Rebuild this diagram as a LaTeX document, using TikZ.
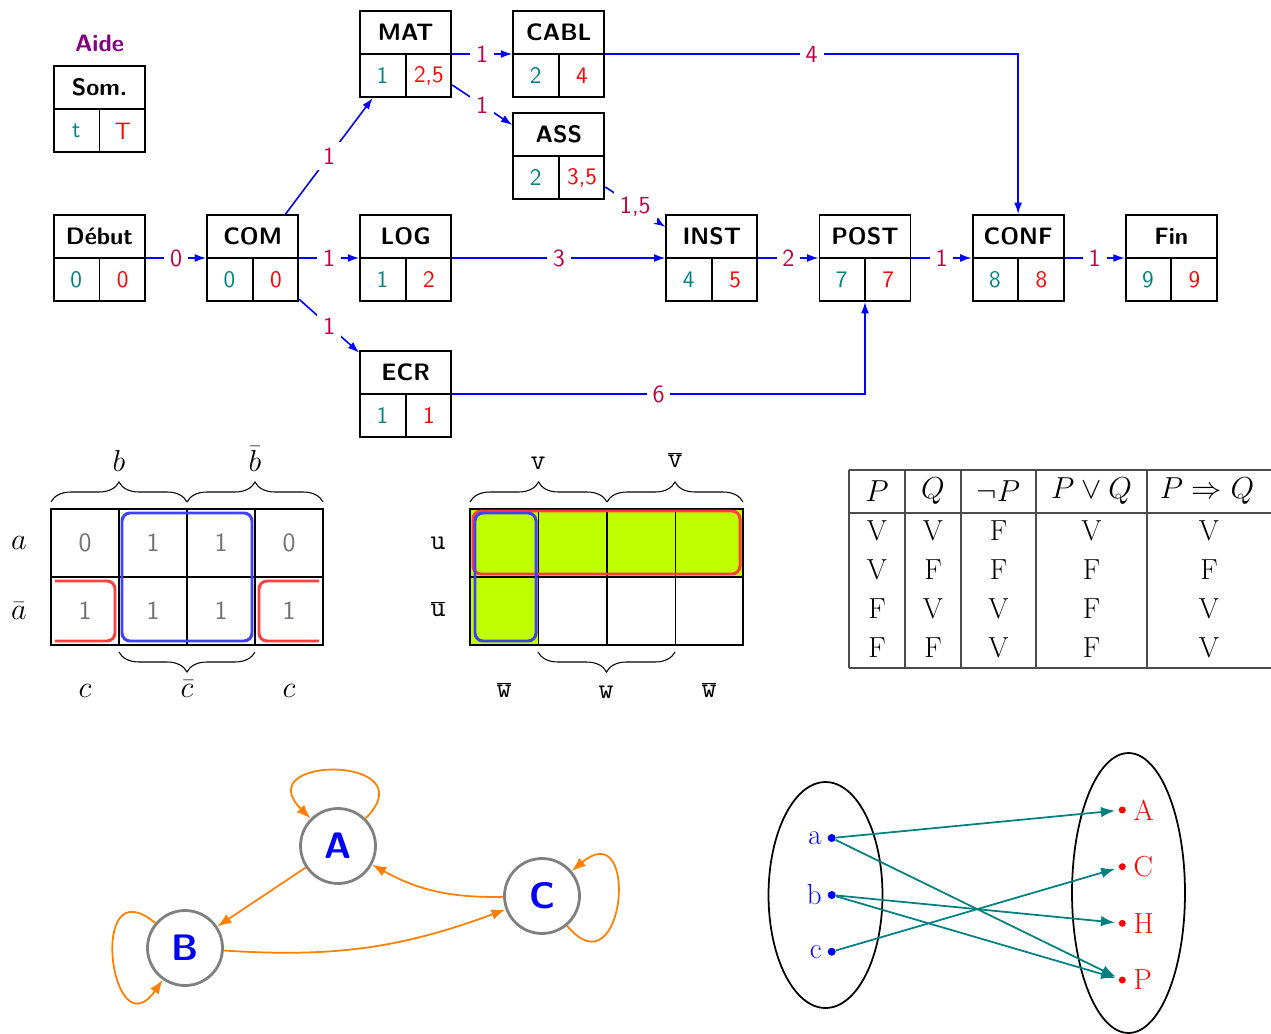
\documentclass[tikz,border=0pt]{standalone}
\usetikzlibrary{arrows.meta,calc,positioning,decorations.pathreplacing}

\newcommand{\taille}{\fontsize{13.5}{16}\selectfont}
\newcommand{\grande}{\fontsize{16.5}{19}\selectfont}

\tikzset{
  tache/.style={draw, line width=1.1pt, minimum width=1.82cm, minimum height=1.72cm, inner sep=0pt,
    path picture={\draw[line width=1.1pt] (path picture bounding box.west) -- (path picture bounding box.east)
      (path picture bounding box.center) -- (path picture bounding box.south);}},
  titre/.style={font=\taille\sffamily\bfseries},
  tot/.style={text=teal, font=\taille\sffamily},
  tard/.style={text=red, font=\taille\sffamily},
  fleche/.style={blue, line width=0.9pt, -{Latex[length=6.5pt,width=4.5pt]}},
  poids/.style={fill=white, text=purple, font=\fontsize{14}{16}\selectfont\sffamily, midway},
  kval/.style={text=black!55, font=\fontsize{15}{18}\selectfont\sffamily},
  klab/.style={font=\grande},
  ktt/.style={font=\grande\ttfamily},
  accolade/.style={decorate, decoration={brace, amplitude=0.4cm}, semithick},
  kbleu/.style={blue!75, line width=1.7pt, rounded corners=0.16cm},
  krouge/.style={red!75, line width=1.7pt, rounded corners=0.16cm},
  tv/.style={black!70, semithick},
  sommet/.style={circle, draw=gray, line width=1.6pt, minimum size=1.5cm, inner sep=0pt,
    text=blue, font=\fontsize{21}{25}\selectfont\sffamily\bfseries},
  arc/.style={orange, line width=1pt, -{Latex[length=8pt,width=6pt]}},
  ptg/.style={circle, fill=blue, inner sep=0pt, minimum size=0.16cm},
  ptd/.style={circle, fill=red, inner sep=0pt, minimum size=0.14cm},
  etg/.style={text=blue, inner sep=0pt, font=\fontsize{16.5}{19}\selectfont},
  etd/.style={text=red, inner sep=0pt, font=\fontsize{16.5}{19}\selectfont},
  fl/.style={teal, line width=1pt, -{Latex[length=8pt,width=6pt]}, shorten >=2pt}
}

% boite d'une tache : nom, position, titre, date au plus tot, date au plus tard
\newcommand{\tache}[5]{%
  \node[tache] (#1) at (#2) {};
  \node[titre] (#1-nom) at ($(#1.north)!0.5!(#1.center)$) {#3};
  \node[tot] (#1-t) at ($(#1.south west)!0.5!(#1.center)$) {#4};
  \node[tard] (#1-T) at ($(#1.south east)!0.5!(#1.center)$) {#5};
}

\begin{document}
\begin{tikzpicture}[x=0.02cm, y=-0.02cm]
\useasboundingbox (0,0) rectangle (1271,1034);

% ordonnancement
\node[titre, text=violet] (aide) at (99.5,43) {Aide};
\tache{Som}{99.5,109}{Som.}{t}{T}
\tache{Debut}{99.5,258}{Début}{0}{0}
\tache{COM}{252.6,258}{COM}{0}{0}
\tache{MAT}{405.7,54}{MAT}{1}{2,5}
\tache{LOG}{405.7,258}{LOG}{1}{2}
\tache{ECR}{405.7,394}{ECR}{1}{1}
\tache{CABL}{558.8,54}{CABL}{2}{4}
\tache{ASS}{558.8,156}{ASS}{2}{3,5}
\tache{INST}{711.9,258}{INST}{4}{5}
\tache{POST}{865,258}{POST}{7}{7}
\tache{CONF}{1018.1,258}{CONF}{8}{8}
\tache{Fin}{1171.2,258}{Fin}{9}{9}
\draw[fleche] (Debut) -- node[poids]{0} (COM);
\draw[fleche] (COM) -- node[poids]{1} (MAT);
\draw[fleche] (COM) -- node[poids]{1} (LOG);
\draw[fleche] (COM) -- node[poids]{1} (ECR);
\draw[fleche] (MAT) -- node[poids]{1} (CABL);
\draw[fleche] (MAT) -- node[poids]{1} (ASS);
\draw[fleche] (LOG) -- node[poids]{3} (INST);
\draw[fleche] (ASS) -- node[poids]{1,5} (INST);
\draw[fleche] (CABL) -| node[poids, pos=0.25]{4} (CONF);
\draw[fleche] (INST) -- node[poids]{2} (POST);
\draw[fleche] (ECR) -| node[poids, pos=0.25]{6} (POST);
\draw[fleche] (POST) -- node[poids]{1} (CONF);
\draw[fleche] (CONF) -- node[poids]{1} (Fin);

% Karnaugh a b c
\foreach \v [count=\i] in {0,1,1,0} \node[kval] (k1-h\i) at (17+68*\i,543) {\v};
\foreach \v [count=\i] in {1,1,1,1} \node[kval] (k1-b\i) at (17+68*\i,611) {\v};
\draw[semithick] (119,509) -- (119,645) (187,509) -- (187,645) (255,509) -- (255,645) (51,577) -- (323,577);
\draw[line width=1.1pt] (51,509) rectangle (323,645);
\draw[kbleu] (122,513) rectangle (252,641);
\draw[krouge] (55,581) -- (115,581) -- (115,641) -- (55,641);
\draw[krouge] (319,581) -- (259,581) -- (259,641) -- (319,641);
\draw[accolade] (51,502) -- (187,502);
\draw[accolade] (187,502) -- (323,502);
\draw[accolade] (255,652) -- (119,652);
\node[klab] (k1-a) at (19,543) {$a$};
\node[klab] (k1-na) at (19,611) {$\bar{a}$};
\node[klab] (k1-b) at (119,461) {$b$};
\node[klab] (k1-nb) at (255,459) {$\bar{b}$};
\node[klab] (k1-c) at (85,691) {$c$};
\node[klab] (k1-nc) at (187,689) {$\bar{c}$};
\node[klab] (k1-c2) at (289,691) {$c$};

% Karnaugh u v w
\fill[lime] (470,509) rectangle (743,577);
\fill[lime] (470,577) rectangle (538.5,645);
\draw[semithick] (538.5,509) -- (538.5,645) (607,509) -- (607,645) (675.5,509) -- (675.5,645) (470,577) -- (743,577);
\draw[line width=1.1pt] (470,509) rectangle (743,645);
\draw[krouge] (473,511) rectangle (740,574);
\draw[kbleu] (475,513) rectangle (536,641);
\draw[accolade] (470,502) -- (607,502);
\draw[accolade] (607,502) -- (743,502);
\draw[accolade] (675,652) -- (538,652);
\node[ktt] (k2-u) at (438,543) {u};
\node[ktt] (k2-nu) at (438,609) {$\overline{\texttt{u}}$};
\node[ktt] (k2-v) at (538,463) {v};
\node[ktt] (k2-nv) at (675,460) {$\overline{\texttt{v}}$};
\node[ktt] (k2-nw) at (504,690) {$\overline{\texttt{w}}$};
\node[ktt] (k2-w) at (606,692) {w};
\node[ktt] (k2-nw2) at (709,690) {$\overline{\texttt{w}}$};

% table de verite
\draw[tv] (849,470) -- (1271,470) (849,513) -- (1271,513) (849,668) -- (1271,668);
\draw[tv] (849,470) -- (849,668) (905,470) -- (905,668) (961,470) -- (961,668) (1036,470) -- (1036,668) (1147,470) -- (1147,668);
\node[klab] (tv-P) at (877,491) {$P$};
\node[klab] (tv-Q) at (933,491) {$Q$};
\node[klab] (tv-nP) at (998.5,491) {$\neg P$};
\node[klab] (tv-ou) at (1091.5,491) {$P\vee Q$};
\node[klab] (tv-imp) at (1207,491) {$P\Rightarrow Q$};
\foreach \p/\q/\np/\ou/\imp [count=\r] in {V/V/F/V/V, V/F/F/F/F, F/V/V/F/V, F/F/V/F/V} {
  \node[klab] (tv-\r-1) at (877,492+39*\r) {\p};
  \node[klab] (tv-\r-2) at (933,492+39*\r) {\q};
  \node[klab] (tv-\r-3) at (998.5,492+39*\r) {\np};
  \node[klab] (tv-\r-4) at (1091.5,492+39*\r) {\ou};
  \node[klab] (tv-\r-5) at (1209,492+39*\r) {\imp};
}

% graphe
\node[sommet] (A) at (338,846) {A};
\node[sommet] (B) at (185,948) {B};
\node[sommet] (C) at (542,896) {C};
\draw[arc] (A) -- (B);
\draw[arc] (C) to[bend left=15] (A);
\draw[arc] (B) to[bend right=12] (C);
\draw[arc] (A) to[out=45, in=135, distance=1.8cm] (A);
\draw[arc] (B) to[out=140, in=235, distance=1.8cm] (B);
\draw[arc] (C) to[out=-50, in=40, distance=1.8cm] (C);

% ensembles
\draw[line width=1pt] (825.5,895) ellipse [x radius=1.14cm, y radius=2.26cm];
\draw[line width=1pt] (1128.5,893) ellipse [x radius=1.13cm, y radius=2.8cm];
\node[ptg] (ea) at (831.7,838) {};
\node[ptg] (eb) at (831.7,895) {};
\node[ptg] (ec) at (831.7,951.7) {};
\node[etg, left=3pt of ea] (la) {a};
\node[etg, left=3pt of eb] (lb) {b};
\node[etg, left=3pt of ec] (lc) {c};
\node[ptd] (eA) at (1122.3,810) {};
\node[ptd] (eC) at (1122.3,866.7) {};
\node[ptd] (eH) at (1122.3,923.3) {};
\node[ptd] (eP) at (1122.3,980) {};
\node[etd, right=4pt of eA] (lA) {A};
\node[etd, right=4pt of eC] (lC) {C};
\node[etd, right=4pt of eH] (lH) {H};
\node[etd, right=4pt of eP] (lP) {P};
\draw[fl] (ea) -- (eA);
\draw[fl] (ea) -- (eP);
\draw[fl] (eb) -- (eH);
\draw[fl] (eb) -- (eP);
\draw[fl] (ec) -- (eC);

\end{tikzpicture}
\end{document}
